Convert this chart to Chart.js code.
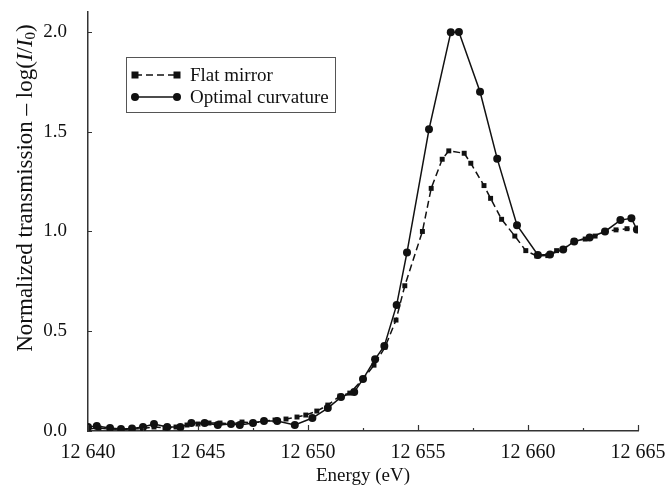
<!DOCTYPE html>
<html lang="en">
<head>
  <meta charset="UTF-8">
  <script src="https://cdn.jsdelivr.net/npm/chart.js"></script>
  <title>Normalized transmission</title>
  <style>
    body { margin: 0; background: #fff; }
    #wrap { width: 670px; height: 489px; }
  </style>
</head>
<body>
  <div id="wrap"><canvas id="chart"></canvas></div>
  <script>
    // energies (eV) and values
    const flatE = [12640.0, 12640.5, 12641.0, 12641.5, 12642.0, 12642.5, 12643.0, 12643.5, 12644.0, 12644.5,
      12645.0, 12645.5, 12646.0, 12646.5, 12647.0, 12647.5, 12648.0, 12648.5, 12649.0, 12649.5,
      12649.9, 12650.4, 12650.9, 12651.45, 12651.9, 12652.5, 12653.0, 12653.5, 12654.0, 12654.4,
      12655.2, 12655.6, 12656.1, 12656.4, 12657.1, 12657.4, 12658.0, 12658.3, 12658.8, 12659.4,
      12659.9, 12660.4, 12660.9, 12661.3, 12661.6, 12662.1, 12662.6, 12663.05, 12663.5, 12664.0,
      12664.5, 12664.95];
    const flatV = [0.01, 0.015, 0.01, 0.008, 0.01, 0.012, 0.02, 0.015, 0.02, 0.03,
      0.035, 0.04, 0.04, 0.035, 0.045, 0.04, 0.05, 0.055, 0.06, 0.07,
      0.08, 0.1, 0.13, 0.175, 0.19, 0.26, 0.33, 0.42, 0.556, 0.728,
      1.0, 1.216, 1.362, 1.404, 1.392, 1.342, 1.23, 1.166, 1.061, 0.977,
      0.904, 0.877, 0.879, 0.904, 0.91, 0.954, 0.962, 0.977, 0.999, 1.008,
      1.014, 1.008];

    const optE = [12640.0, 12640.4, 12641.0, 12641.5, 12642.0, 12642.5, 12643.0, 12643.6, 12644.2, 12644.7,
      12645.3, 12645.9, 12646.5, 12646.9, 12647.5, 12648.0, 12648.6, 12649.4, 12650.2, 12650.9,
      12651.5, 12652.1, 12652.5, 12653.05, 12653.47, 12654.03, 12654.5, 12655.5, 12656.49, 12656.86,
      12657.82, 12658.6, 12659.5, 12660.45, 12661.0, 12661.6, 12662.1, 12662.8, 12663.5, 12664.2,
      12664.7, 12664.95];
    const optV = [0.02, 0.025, 0.015, 0.01, 0.012, 0.02, 0.035, 0.02, 0.02, 0.04,
      0.04, 0.03, 0.035, 0.03, 0.04, 0.05, 0.05, 0.03, 0.065, 0.115,
      0.17, 0.195, 0.26, 0.36, 0.426, 0.632, 0.895, 1.512, 1.998, 2.0,
      1.70, 1.365, 1.031, 0.882, 0.885, 0.91, 0.95, 0.97, 1.0, 1.057,
      1.066, 1.01];

    const yTicks = [0, 0.5, 1.0, 1.5, 2.0];
    const seriesNames = ['Flat mirror', 'Optimal curvature'];

    const FONT = '"Liberation Serif", "Times New Roman", serif';
    const INK = '#111';
    const AXIS = '#333';

    const toPts = (xs, ys) => xs.map((x, i) => ({ x: x, y: ys[i] }));

    // small ticks pointing into the plot, like the original figure
    const innerTicks = {
      id: 'innerTicks',
      afterDraw(chart) {
        const { ctx, scales: { x, y } } = chart;
        ctx.save();
        ctx.strokeStyle = AXIS;
        ctx.lineWidth = 1.2;
        ctx.beginPath();
        for (let e = 12640; e <= 12665; e += 2.5) {
          const px = Math.round(x.getPixelForValue(e)) + 0.5;
          const len = (e % 5 === 0) ? 6 : 3;
          ctx.moveTo(px, y.bottom);
          ctx.lineTo(px, y.bottom - len);
        }
        yTicks.forEach(v => {
          const py = Math.round(y.getPixelForValue(v)) + 0.5;
          ctx.moveTo(x.left, py);
          ctx.lineTo(x.left + 4, py);
        });
        ctx.stroke();
        ctx.restore();
      }
    };

    // y title with italic I and subscript 0
    const yTitle = {
      id: 'yTitle',
      afterDraw(chart) {
        const ctx = chart.ctx;
        const size = 23;
        const parts = [
          { t: 'Normalized transmission \u2013 log(', f: `${size}px ${FONT}`, dy: 0 },
          { t: 'I', f: `italic ${size}px ${FONT}`, dy: 0 },
          { t: '/', f: `${size}px ${FONT}`, dy: 0 },
          { t: 'I', f: `italic ${size}px ${FONT}`, dy: 0 },
          { t: '0', f: `${Math.round(size * 0.65)}px ${FONT}`, dy: 5 },
          { t: ')', f: `${size}px ${FONT}`, dy: 0 }
        ];
        ctx.save();
        let total = 0;
        parts.forEach(p => { ctx.font = p.f; p.w = ctx.measureText(p.t).width; total += p.w; });
        ctx.translate(26, 188);
        ctx.rotate(-Math.PI / 2);
        ctx.fillStyle = INK;
        ctx.textBaseline = 'middle';
        let cx = -total / 2;
        parts.forEach(p => {
          ctx.font = p.f;
          ctx.fillText(p.t, cx, p.dy);
          cx += p.w;
        });
        ctx.restore();
      }
    };

    // boxed legend with a marker at each end of the sample line
    const boxLegend = {
      id: 'boxLegend',
      afterDraw(chart) {
        const ctx = chart.ctx;
        ctx.save();
        ctx.strokeStyle = '#555';
        ctx.lineWidth = 1;
        ctx.strokeRect(126.5, 57.5, 209, 55);
        ctx.font = `19px ${FONT}`;
        ctx.textBaseline = 'middle';
        chart.data.datasets.forEach((ds, i) => {
          const yy = 75 + i * 22;
          ctx.strokeStyle = INK;
          ctx.fillStyle = INK;
          ctx.lineWidth = 1.5;
          ctx.setLineDash(ds.borderDash || []);
          ctx.beginPath();
          ctx.moveTo(135, yy);
          ctx.lineTo(177, yy);
          ctx.stroke();
          ctx.setLineDash([]);
          [135, 177].forEach(mx => {
            if (ds.pointStyle === 'rect') {
              ctx.fillRect(mx - 3.5, yy - 3.5, 7, 7);
            } else {
              ctx.beginPath();
              ctx.arc(mx, yy, 4, 0, Math.PI * 2);
              ctx.fill();
            }
          });
          ctx.fillText(ds.label, 190, yy + 1);
        });
        ctx.restore();
      }
    };

    new Chart(document.getElementById('chart'), {
      type: 'scatter',
      data: {
        datasets: [
          {
            label: seriesNames[0],
            data: toPts(flatE, flatV),
            showLine: true,
            borderColor: INK,
            backgroundColor: INK,
            borderWidth: 1.5,
            borderDash: [7, 4],
            pointStyle: 'rect',
            pointRadius: 3.5,
            pointBorderWidth: 0
          },
          {
            label: seriesNames[1],
            data: toPts(optE, optV),
            showLine: true,
            borderColor: INK,
            backgroundColor: INK,
            borderWidth: 1.5,
            pointStyle: 'circle',
            pointRadius: 4,
            pointBorderWidth: 0
          }
        ]
      },
      options: {
        responsive: true,
        maintainAspectRatio: false,
        animation: false,
        layout: { padding: { top: 12, right: 32, left: 0, bottom: 0 } },
        plugins: { legend: { display: false }, tooltip: { enabled: false } },
        scales: {
          x: {
            type: 'linear',
            min: 12640,
            max: 12665,
            afterFit: s => { s.height = 58; s.paddingLeft = 0; s.paddingRight = 0; },
            grid: { display: false, drawTicks: false },
            border: { display: true, color: AXIS, width: 1.5 },
            ticks: {
              stepSize: 2.5,
              padding: 10,
              color: INK,
              font: { family: FONT, size: 20 },
              maxRotation: 0,
              autoSkip: false,
              callback: v => (v % 5 === 0) ? '12 ' + String(v).slice(2) : ''
            },
            title: {
              display: true,
              text: 'Energy (eV)',
              color: INK,
              font: { family: FONT, size: 19 },
              padding: { top: 0, bottom: 2 }
            }
          },
          y: {
            type: 'linear',
            min: 0,
            max: 2.1,
            afterFit: s => { s.width = 88; s.paddingTop = 0; s.paddingBottom = 0; },
            afterBuildTicks: s => { s.ticks = yTicks.map(v => ({ value: v })); },
            grid: { display: false, drawTicks: false },
            border: { display: true, color: AXIS, width: 1.5 },
            ticks: {
              padding: 21,
              color: INK,
              font: { family: FONT, size: 19 },
              callback: v => v.toFixed(1)
            }
          }
        }
      },
      plugins: [innerTicks, yTitle, boxLegend]
    });
  </script>
</body>
</html>
